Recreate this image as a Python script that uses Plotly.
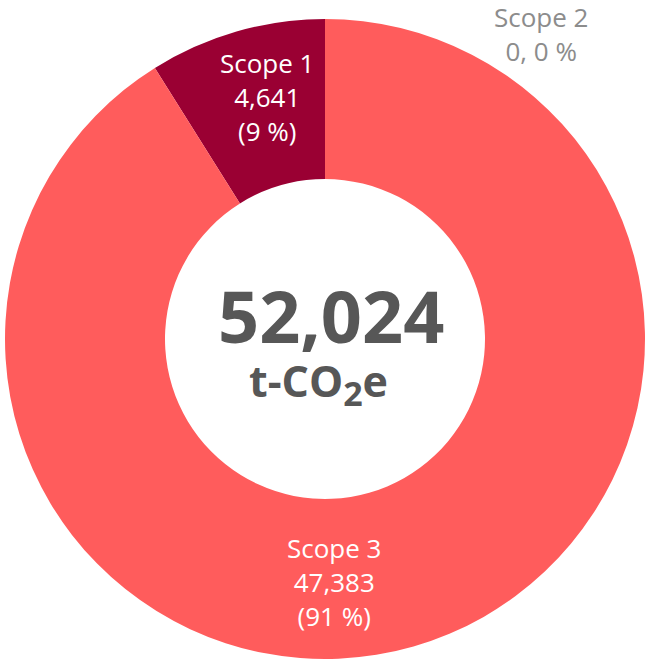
import plotly.graph_objects as go

# 배출량 데이터 (t-CO2e)
labels = ["Scope 1", "Scope 2", "Scope 3"]
values = [4641, 0, 47383]
colors = ["#9A0033", "#B0B0B0", "#FF5C5C"]
unit = "t-CO<sub><span style='font-size:34px'>2</span></sub>e"

total = sum(values)
pcts = [round(v / total * 100) for v in values]

W, H = 651, 669

fig = go.Figure()
fig.add_trace(go.Pie(
    labels=labels,
    values=values,
    hole=0.5,
    sort=False,
    direction="clockwise",
    rotation=-360 * values[0] / total,  # Scope 1 이 12시 왼쪽에 오도록
    marker=dict(colors=colors, line=dict(width=0)),
    textinfo="none",
    hoverinfo="label+value+percent",
    showlegend=False,
    domain=dict(x=[5 / W, 645 / W], y=[1 - 659 / H, 1 - 19 / H]),
))

font = "Open Sans"

def px(x, y):
    return x / W, 1 - y / H

# 라벨 위치 (픽셀)
label_pos = {"Scope 1": (267, 97), "Scope 2": (541, 34), "Scope 3": (334, 582)}
label_color = {"Scope 1": "white", "Scope 2": "#8C8C8C", "Scope 3": "white"}

for lab, v, p in zip(labels, values, pcts):
    x, y = px(*label_pos[lab])
    if v == 0:
        txt = f"{lab}<br>{v:,}, {p} %"
    else:
        txt = f"{lab}<br>{v:,}<br>({p} %)"
    fig.add_annotation(x=x, y=y, xref="paper", yref="paper", text=txt,
                       showarrow=False, xanchor="center", yanchor="middle",
                       font=dict(family=font, size=26, color=label_color[lab]))

cx, cy = px(331, 315)
fig.add_annotation(x=cx, y=cy, xref="paper", yref="paper", text=f"<b>{total:,}</b>",
                   showarrow=False, xanchor="center", yanchor="middle",
                   font=dict(family=font, size=72, color="#575757"))
cx, cy = px(318, 383)
fig.add_annotation(x=cx, y=cy, xref="paper", yref="paper", text=f"<b>{unit}</b>",
                   showarrow=False, xanchor="center", yanchor="middle",
                   font=dict(family=font, size=43, color="#575757"))

fig.update_layout(width=W, height=H, margin=dict(l=0, r=0, t=0, b=0),
                  paper_bgcolor="white", plot_bgcolor="white")
fig.write_html("out.html", config={"displayModeBar": False},
               post_script="document.body.style.margin='0';")
